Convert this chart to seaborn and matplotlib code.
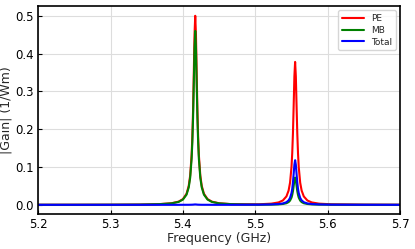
import pandas as pd
import seaborn as sns
import matplotlib.pyplot as plt

# valeurs
freq = [5.20, 5.25, 5.30, 5.34,
        5.367, 5.384, 5.394, 5.400, 5.405, 5.408, 5.410, 5.412, 5.413, 5.414, 5.415, 5.416,
        5.417,
        5.418, 5.419, 5.420, 5.421, 5.422, 5.424, 5.426, 5.429, 5.434, 5.440, 5.450, 5.467,
        5.486,
        5.505, 5.522, 5.532, 5.538, 5.543, 5.546, 5.548, 5.550, 5.551, 5.552, 5.553, 5.554,
        5.555,
        5.556, 5.557, 5.558, 5.559, 5.560, 5.562, 5.564, 5.567, 5.572, 5.578, 5.588, 5.605,
        5.65, 5.70]

pe = [0.0001, 0.0002, 0.0003, 0.0007,
      0.0018, 0.0041, 0.0084, 0.0151, 0.0294, 0.050, 0.0776, 0.132, 0.180, 0.250, 0.346, 0.450,
      0.500,
      0.450, 0.346, 0.250, 0.180, 0.132, 0.0776, 0.050, 0.0294, 0.0151, 0.0084, 0.0041, 0.0018,
      0.0015,
      0.0014, 0.0031, 0.0063, 0.0114, 0.0222, 0.0378, 0.0586, 0.100, 0.136, 0.189, 0.262, 0.340,
      0.378,
      0.340, 0.262, 0.189, 0.136, 0.100, 0.0586, 0.0378, 0.0222, 0.0114, 0.0063, 0.0031, 0.0014,
      0.0005, 0.0002]

mb = [0.0001, 0.0001, 0.0003, 0.0006,
      0.0017, 0.0038, 0.0077, 0.0139, 0.027, 0.046, 0.0714, 0.122, 0.166, 0.230, 0.318, 0.414,
      0.460,
      0.414, 0.318, 0.230, 0.166, 0.122, 0.0714, 0.046, 0.027, 0.0139, 0.0077, 0.0038, 0.0017,
      0.0008,
      0.0003, 0.0006, 0.0012, 0.0022, 0.0042, 0.0072, 0.0112, 0.019, 0.026, 0.036, 0.050, 0.065,
      0.072,
      0.065, 0.050, 0.036, 0.026, 0.019, 0.0112, 0.0072, 0.0042, 0.0022, 0.0012, 0.0006, 0.0003,
      0.0001, 0.0000]

total = [0.0, 0.0, 0.0, 0.0,
         0.0, 0.0, 0.0, 0.0001, 0.0001, 0.0001, 0.0002, 0.0003, 0.0004, 0.0005, 0.0007, 0.0009,
         0.0010,
         0.0009, 0.0007, 0.0005, 0.0004, 0.0003, 0.0002, 0.0001, 0.0001, 0.0001, 0.0, 0.0, 0.0,
         0.0002,
         0.0004, 0.0010, 0.0020, 0.0036, 0.0069, 0.0118, 0.0183, 0.031, 0.042, 0.059, 0.082, 0.106,
         0.118,
         0.106, 0.082, 0.059, 0.042, 0.031, 0.0183, 0.0118, 0.0069, 0.0036, 0.0020, 0.0010, 0.0004,
         0.0001, 0.0000]

data = pd.DataFrame({
    'freq': freq * 3,
    'gain': pe + mb + total,
    'serie': ['PE'] * len(freq) + ['MB'] * len(freq) + ['Total'] * len(freq),
})

sns.set_style('whitegrid')
plt.rcParams['font.family'] = ['DejaVu Sans']

fig = plt.figure(figsize=(4.15, 2.49), dpi=100)
ax = fig.add_axes([0.092, 0.141, 0.872, 0.835])
sns.lineplot(data=data, x='freq', y='gain', hue='serie',
             palette={'PE': 'red', 'MB': 'green', 'Total': 'blue'},
             linewidth=1.5, ax=ax)

ax.set_xlim(5.2, 5.7)
ax.set_ylim(-0.024, 0.526)
ax.set_xticks([5.2, 5.3, 5.4, 5.5, 5.6, 5.7])
ax.set_yticks([0.0, 0.1, 0.2, 0.3, 0.4, 0.5])
ax.set_xlabel('Frequency (GHz)', fontsize=9, labelpad=1)
ax.set_ylabel('|Gain| (1/Wm)', fontsize=9, labelpad=2)
ax.tick_params(direction='in', length=3, width=0.8, labelsize=8.5, colors='black',
               bottom=True, left=True, pad=3)
ax.grid(True, color='#dddddd', linewidth=0.8)
for s in ax.spines.values():
    s.set_color('black')
    s.set_linewidth(1.2)

ax.legend(loc='upper right', fontsize=6.5, frameon=True, handlelength=2.4,
          borderpad=0.4, labelspacing=0.3)

fig.savefig('out.png', dpi=100)
